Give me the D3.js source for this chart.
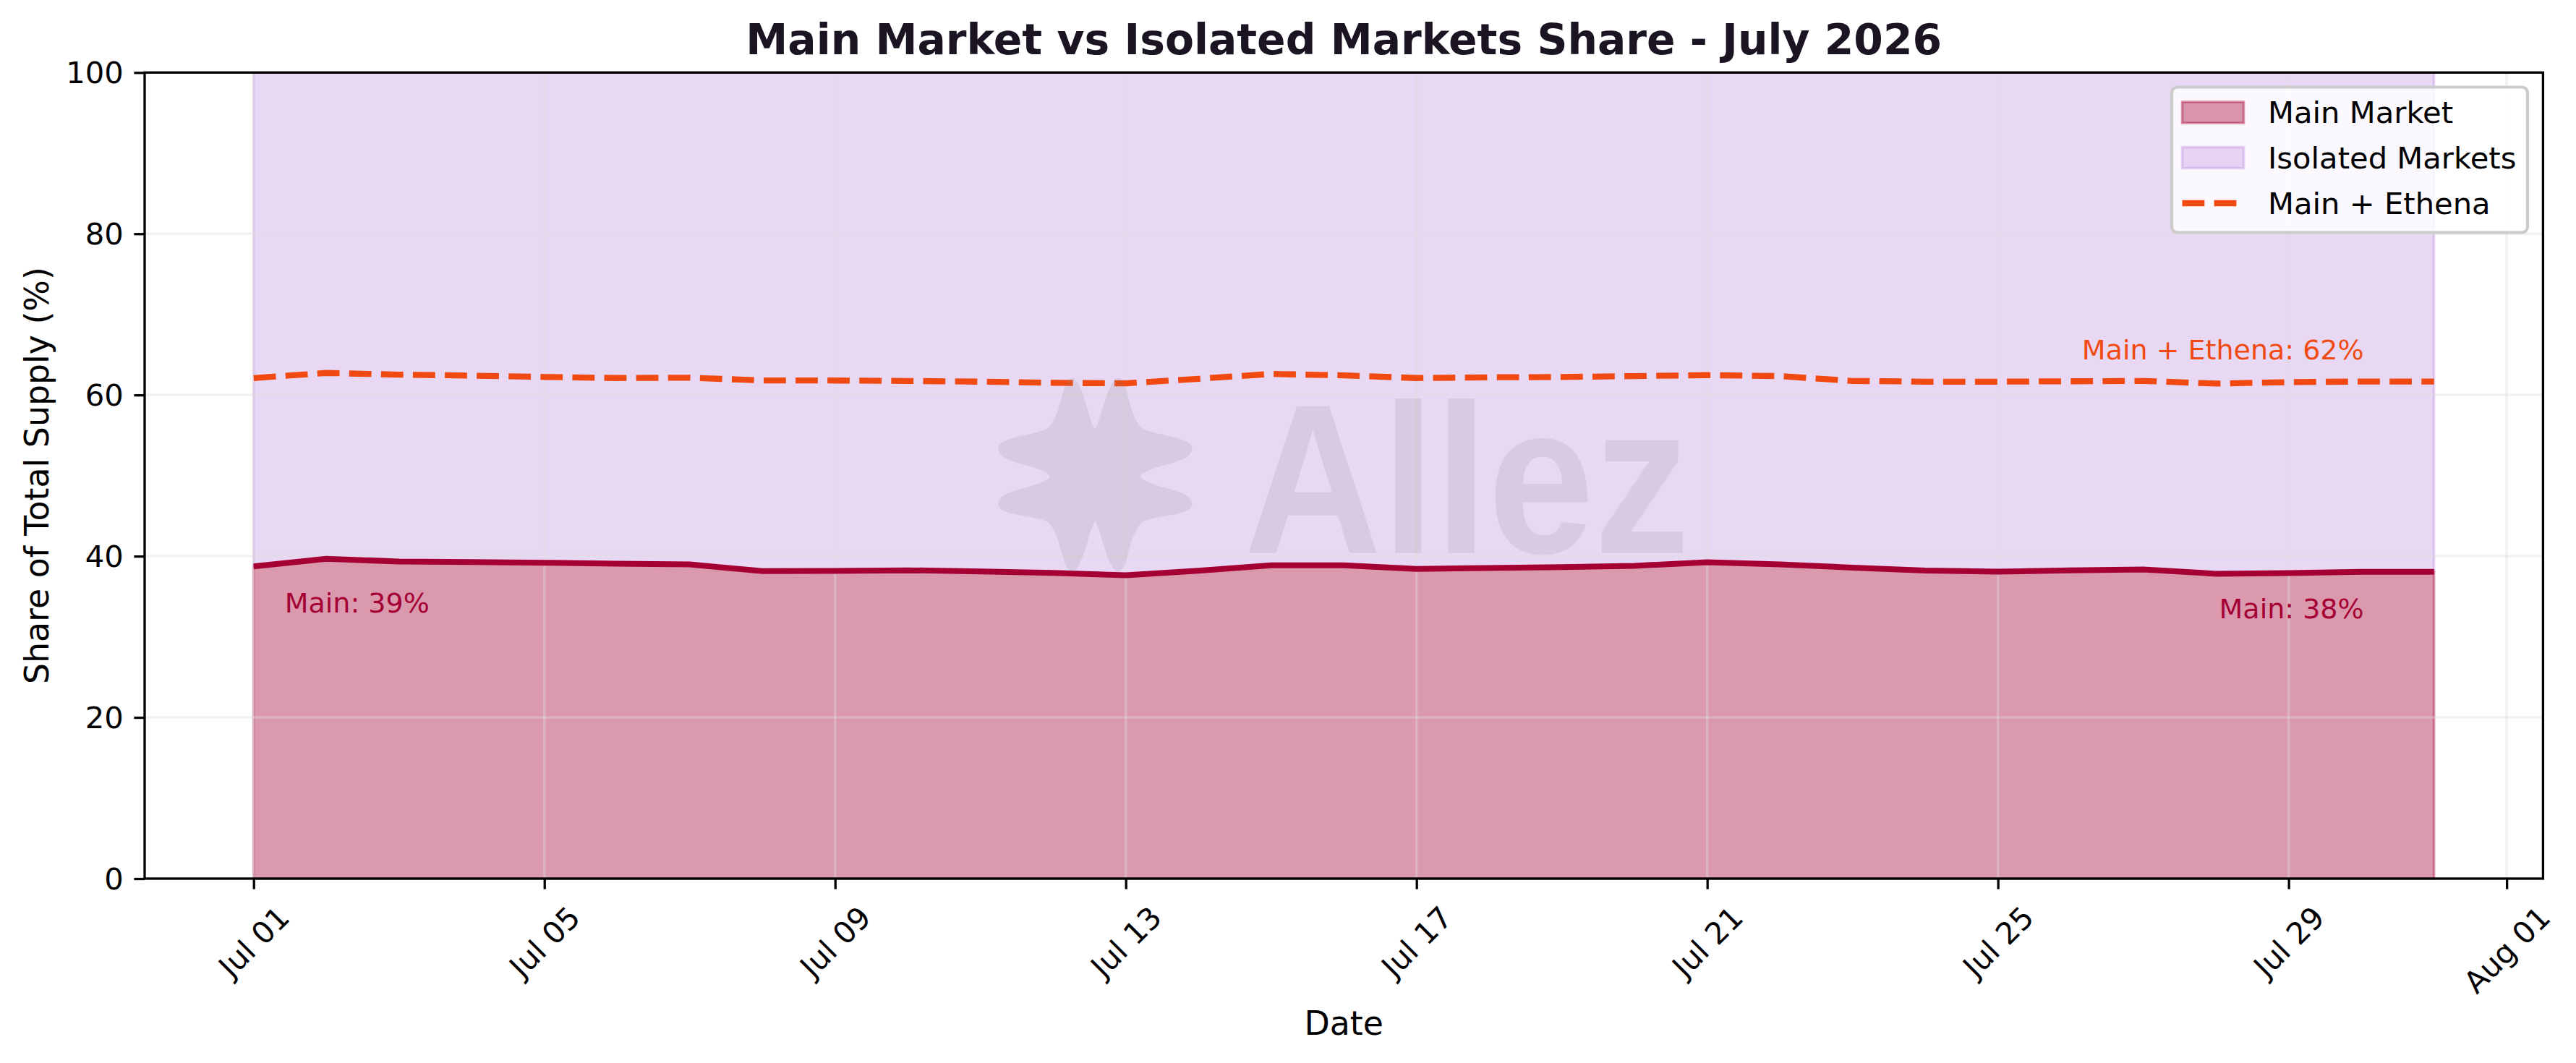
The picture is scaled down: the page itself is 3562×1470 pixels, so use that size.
<!DOCTYPE html>
<html>
<head>
<meta charset="utf-8">
<script src="https://cdn.jsdelivr.net/npm/d3@7"></script>
<style>
  html, body { margin: 0; padding: 0; background: #ffffff; }
  svg { display: block; font-family: "DejaVu Sans", sans-serif; }
</style>
</head>
<body>
<svg id="chart" width="3562" height="1470"></svg>
<script>
// daily share of total supply, July 2026
var dates = [
  '2026-07-01', '2026-07-02', '2026-07-03', '2026-07-04', '2026-07-05', '2026-07-06', '2026-07-07', '2026-07-08',
  '2026-07-09', '2026-07-10', '2026-07-11', '2026-07-12', '2026-07-13', '2026-07-14', '2026-07-15', '2026-07-16',
  '2026-07-17', '2026-07-18', '2026-07-19', '2026-07-20', '2026-07-21', '2026-07-22', '2026-07-23', '2026-07-24',
  '2026-07-25', '2026-07-26', '2026-07-27', '2026-07-28', '2026-07-29', '2026-07-30', '2026-07-31'
];
var mainShare = [
  38.74, 39.67, 39.34, 39.28, 39.19, 39.07, 38.98, 38.14,
  38.18, 38.25, 38.10, 37.92, 37.64, 38.20, 38.86, 38.86,
  38.41, 38.53, 38.64, 38.80, 39.25, 38.98, 38.58, 38.22,
  38.09, 38.23, 38.35, 37.82, 37.90, 38.07, 38.07
];
var mainEthenaShare = [
  62.10, 62.73, 62.52, 62.40, 62.23, 62.10, 62.14, 61.80,
  61.79, 61.74, 61.65, 61.50, 61.44, 62.01, 62.61, 62.43,
  62.10, 62.19, 62.23, 62.34, 62.46, 62.34, 61.74, 61.65,
  61.65, 61.70, 61.74, 61.41, 61.59, 61.67, 61.67
];
var yTicks = [0, 20, 40, 60, 80, 100];
var xTickDates = ['2026-07-01', '2026-07-05', '2026-07-09', '2026-07-13', '2026-07-17',
                  '2026-07-21', '2026-07-25', '2026-07-29', '2026-08-01'];
var seriesNames = ['Main Market', 'Isolated Markets', 'Main + Ethena'];

document.addEventListener('DOMContentLoaded', function() {
  var svg = d3.select('#chart');
  var parse = d3.timeParse('%Y-%m-%d');
  var DAY = 864e5;

  // axes box (pixels)
  var left = 200, right = 3516.4, top = 100.3, bottom = 1215;
  var tickLen = 14.6, tickPad = 14.6;

  var MAIN = '#A50034', ISO = '#A363D3', ETH = '#F04A12';

  var days = dates.map(parse);
  var rows = days.map(function(d, i) {
    return { date: d, main: mainShare[i], eth: mainEthenaShare[i] };
  });

  var x = d3.scaleTime()
    .domain([new Date(days[0].getTime() - 1.5 * DAY), new Date(days[days.length - 1].getTime() + 1.5 * DAY)])
    .range([left, right]);
  var y = d3.scaleLinear().domain([0, 100]).range([bottom, top]);

  // isolated markets: band from main share up to 100
  var isoArea = d3.area()
    .x(function(d) { return x(d.date); })
    .y0(function(d) { return y(d.main); })
    .y1(function() { return y(100); });
  svg.append('path').datum(rows)
    .attr('d', isoArea)
    .attr('fill', ISO).attr('fill-opacity', 0.25)
    .attr('stroke', ISO).attr('stroke-opacity', 0.25).attr('stroke-width', 3.5);

  // main market: band from 0 up to main share
  var mainArea = d3.area()
    .x(function(d) { return x(d.date); })
    .y0(function() { return y(0); })
    .y1(function(d) { return y(d.main); });
  svg.append('path').datum(rows)
    .attr('d', mainArea)
    .attr('fill', MAIN).attr('fill-opacity', 0.4)
    .attr('stroke', MAIN).attr('stroke-opacity', 0.4).attr('stroke-width', 3.5);

  // grid
  var grid = svg.append('g').attr('stroke', '#dddddd').attr('stroke-opacity', 0.4).attr('stroke-width', 3.3);
  grid.selectAll('.hgrid').data(yTicks).enter().append('line')
    .attr('x1', left).attr('x2', right)
    .attr('y1', function(d) { return y(d); }).attr('y2', function(d) { return y(d); });
  grid.selectAll('.vgrid').data(xTickDates.map(parse)).enter().append('line')
    .attr('y1', top).attr('y2', bottom)
    .attr('x1', function(d) { return x(d); }).attr('x2', function(d) { return x(d); });

  // lines
  var mainLine = d3.line()
    .x(function(d) { return x(d.date); })
    .y(function(d) { return y(d.main); });
  var ethLine = d3.line()
    .x(function(d) { return x(d.date); })
    .y(function(d) { return y(d.eth); });

  svg.append('path').datum(rows)
    .attr('d', mainLine)
    .attr('fill', 'none').attr('stroke', MAIN).attr('stroke-width', 8)
    .attr('stroke-linejoin', 'round');
  svg.append('path').datum(rows)
    .attr('d', ethLine)
    .attr('fill', 'none').attr('stroke', ETH).attr('stroke-width', 8.3)
    .attr('stroke-dasharray', '30.8 13.3');

  // annotations at first / last point
  var first = rows[0], last = rows[rows.length - 1];
  svg.append('text')
    .attr('x', x(first.date) + 43).attr('y', y(first.main) + 64)
    .attr('font-size', 38).attr('fill', MAIN)
    .text('Main: ' + Math.round(first.main) + '%');
  svg.append('text')
    .attr('x', x(last.date) - 97).attr('y', y(last.main) + 64)
    .attr('text-anchor', 'end')
    .attr('font-size', 38).attr('fill', MAIN)
    .text('Main: ' + Math.round(last.main) + '%');
  svg.append('text')
    .attr('x', x(last.date) - 97).attr('y', y(last.eth) - 31)
    .attr('text-anchor', 'end')
    .attr('font-size', 38).attr('fill', ETH)
    .text('Main + Ethena: ' + Math.round(last.eth) + '%');

  // axes
  var yAxis = d3.axisLeft(y).tickValues(yTicks).tickSize(tickLen).tickPadding(tickPad).tickSizeOuter(0);
  var gy = svg.append('g')
    .attr('transform', 'translate(' + left + ',0)')
    .call(yAxis);
  var xAxis = d3.axisBottom(x).tickValues(xTickDates.map(parse))
    .tickFormat(d3.timeFormat('%b %d'))
    .tickSize(tickLen).tickPadding(tickPad).tickSizeOuter(0);
  var gx = svg.append('g')
    .attr('transform', 'translate(0,' + bottom + ')')
    .call(xAxis);

  [gx, gy].forEach(function(g) {
    g.attr('font-size', 41.7).attr('font-family', '"DejaVu Sans", sans-serif').attr('color', '#000');
    g.select('.domain').remove();
    g.selectAll('.tick line').attr('stroke-width', 3.3);
  });
  gy.selectAll('.tick text')
    .attr('dy', null)
    .attr('dominant-baseline', 'central');

  gx.selectAll('.tick text')
    .attr('y', null).attr('dy', null)
    .attr('text-anchor', 'middle')
    .attr('dominant-baseline', 'central')
    .attr('transform', function() {
      var w = this.getComputedTextLength();
      var h = 48.5;
      var cy = tickLen + tickPad + (w + h) * Math.SQRT1_2 / 2;
      return 'translate(0,' + cy + ') rotate(-45)';
    });

  // watermark (drawn faint, on top)
  var cx = (left + right) / 2, cy = (top + bottom) / 2;
  var wm = svg.append('g').attr('fill', '#808080').attr('fill-opacity', 0.15);
  wm.append('path')
    .attr('transform', 'translate(' + (cx - 344) + ',' + (cy + 1) + ')')
    .attr('d', 'M0,-65 C-8,-75 -18,-136 -32,-136 C-46,-136 -46,-80 -67,-65 ' +
               'C-95,-55 -134,-54 -134,-38 C-134,-22 -100,-18 -84,-12 C-70,-7 -63,-4 -63,0 ' +
               'C-63,4 -70,7 -84,12 C-100,18 -134,22 -134,38 C-134,54 -95,52 -67,62 ' +
               'C-46,77 -46,132 -32,132 C-18,132 -8,72 0,62 ' +
               'C8,72 18,132 32,132 C46,132 46,77 67,62 ' +
               'C95,52 134,54 134,38 C134,22 100,18 84,12 C70,7 63,4 63,0 ' +
               'C63,-4 70,-7 84,-12 C100,-18 134,-22 134,-38 C134,-54 95,-55 67,-65 ' +
               'C46,-80 46,-136 32,-136 C18,-136 8,-75 0,-65 Z');
  wm.append('text')
    .attr('x', cx - 138).attr('y', cy + 107)
    .attr('font-family', '"Liberation Sans", Arial, sans-serif')
    .attr('font-weight', 'bold')
    .attr('font-size', 295)
    .attr('textLength', 616).attr('lengthAdjust', 'spacingAndGlyphs')
    .text('Allez');

  // spines
  svg.append('rect')
    .attr('x', left).attr('y', top)
    .attr('width', right - left).attr('height', bottom - top)
    .attr('fill', 'none').attr('stroke', '#000').attr('stroke-width', 3.3);

  // title and labels
  svg.append('text')
    .attr('x', cx).attr('y', 74.6)
    .attr('text-anchor', 'middle')
    .attr('font-size', 58.3).attr('font-weight', 'bold').attr('fill', '#1a1423')
    .text('Main Market vs Isolated Markets Share - July 2026');
  svg.append('text')
    .attr('x', cx).attr('y', 1431)
    .attr('text-anchor', 'middle')
    .attr('font-size', 45.8).attr('fill', '#000')
    .text('Date');
  svg.append('text')
    .attr('transform', 'translate(51,' + cy + ') rotate(-90)')
    .attr('text-anchor', 'middle')
    .attr('dominant-baseline', 'central')
    .attr('font-size', 45.8).attr('fill', '#000')
    .text('Share of Total Supply (%)');

  // legend
  var lg = svg.append('g');
  lg.append('rect')
    .attr('x', 3003).attr('y', 120.5).attr('width', 492).attr('height', 201)
    .attr('rx', 8).attr('ry', 8)
    .attr('fill', '#ffffff').attr('fill-opacity', 0.85)
    .attr('stroke', '#cccccc').attr('stroke-width', 4.2);
  var rowY = [155.5, 218, 281];
  var items = lg.selectAll('.item').data(seriesNames).enter().append('g')
    .attr('transform', function(d, i) { return 'translate(3017.5,' + rowY[i] + ')'; });
  items.each(function(d, i) {
    var g = d3.select(this);
    if (i < 2) {
      var c = i === 0 ? MAIN : ISO, a = i === 0 ? 0.4 : 0.25;
      g.append('rect')
        .attr('x', 0).attr('y', -14.6).attr('width', 85).attr('height', 29.2)
        .attr('fill', c).attr('fill-opacity', a)
        .attr('stroke', c).attr('stroke-opacity', a).attr('stroke-width', 3.5);
    } else {
      g.append('line')
        .attr('x1', 0).attr('x2', 85).attr('y1', 0).attr('y2', 0)
        .attr('stroke', ETH).attr('stroke-width', 8.3)
        .attr('stroke-dasharray', '30.8 13.3');
    }
    g.append('text')
      .attr('x', 118.5).attr('y', 0)
      .attr('dominant-baseline', 'central')
      .attr('font-size', 41.7).attr('fill', '#000')
      .text(d);
  });
});
</script>
</body>
</html>
